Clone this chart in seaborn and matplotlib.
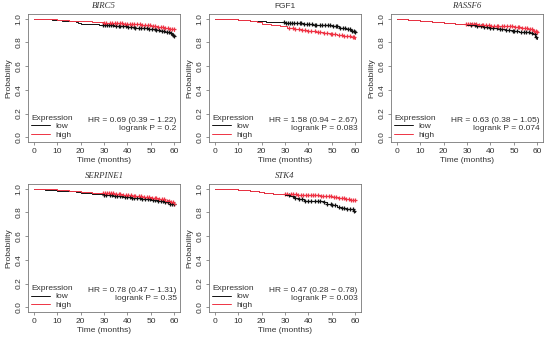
"""
Kaplan-Meier style survival panels for five genes (low vs high expression).
"""

import numpy as np
import matplotlib
matplotlib.use("Agg")
import matplotlib.pyplot as plt
from matplotlib.lines import Line2D
import seaborn as sns

genes = ["BIRC5", "FGF1", "RASSF6", "SERPINE1", "STK4"]
hr_text = ["HR = 0.69 (0.39 \u2212 1.22)", "HR = 1.58 (0.94 \u2212 2.67)",
           "HR = 0.63 (0.38 \u2212 1.05)", "HR = 0.78 (0.47 \u2212 1.31)",
           "HR = 0.47 (0.28 \u2212 0.78)"]
p_text = ["logrank P = 0.2", "logrank P = 0.083", "logrank P = 0.074",
          "logrank P = 0.35", "logrank P = 0.003"]

# step curves: event times (months) and survival probability
birc5_low_t = [0, 3, 8, 12, 16, 18, 19, 20, 24, 28, 31, 34, 37, 40, 43, 46, 49, 52, 54, 56, 58, 59, 60]
birc5_low_s = [1.0, 0.995, 0.99, 0.985, 0.98, 0.975, 0.965, 0.958, 0.952, 0.948, 0.944, 0.94, 0.935,
               0.93, 0.925, 0.92, 0.915, 0.905, 0.898, 0.89, 0.878, 0.865, 0.855]
birc5_high_t = [0, 4, 10, 15, 20, 25, 30, 34, 38, 42, 46, 50, 53, 56, 58, 60]
birc5_high_s = [1.0, 0.995, 0.99, 0.985, 0.978, 0.972, 0.968, 0.963, 0.958, 0.952, 0.945, 0.937,
                0.93, 0.92, 0.91, 0.9]

fgf1_low_t = [0, 5, 10, 15, 18, 22, 26, 30, 34, 38, 42, 46, 50, 53, 56, 58, 60]
fgf1_low_s = [1.0, 0.995, 0.99, 0.985, 0.98, 0.975, 0.97, 0.965, 0.96, 0.955, 0.95, 0.945, 0.935,
              0.925, 0.915, 0.9, 0.885]
fgf1_high_t = [0, 5, 10, 15, 18, 20, 24, 28, 31, 34, 37, 40, 43, 46, 49, 52, 55, 58, 60]
fgf1_high_s = [1.0, 0.995, 0.99, 0.985, 0.975, 0.955, 0.95, 0.94, 0.925, 0.915, 0.905, 0.895,
               0.885, 0.878, 0.87, 0.86, 0.855, 0.845, 0.83]

rassf6_low_t = [0, 5, 10, 15, 20, 25, 30, 34, 37, 40, 43, 46, 49, 52, 55, 57, 58, 59, 60]
rassf6_low_s = [1.0, 0.993, 0.985, 0.975, 0.965, 0.958, 0.95, 0.94, 0.93, 0.922, 0.915, 0.905,
                0.895, 0.89, 0.885, 0.88, 0.87, 0.85, 0.83]
rassf6_high_t = [0, 5, 10, 15, 20, 25, 30, 35, 40, 45, 50, 53, 56, 58, 60]
rassf6_high_s = [1.0, 0.993, 0.985, 0.975, 0.965, 0.958, 0.952, 0.947, 0.942, 0.937, 0.93, 0.92,
                 0.91, 0.9, 0.89]

serpine1_low_t = [0, 5, 10, 15, 18, 20, 25, 30, 34, 38, 42, 46, 50, 53, 56, 58, 60]
serpine1_low_s = [1.0, 0.993, 0.985, 0.978, 0.97, 0.96, 0.955, 0.948, 0.94, 0.932, 0.925, 0.915,
                  0.905, 0.895, 0.885, 0.875, 0.86]
serpine1_high_t = [0, 5, 10, 15, 20, 25, 30, 34, 38, 42, 46, 50, 53, 56, 58, 60]
serpine1_high_s = [1.0, 0.995, 0.99, 0.982, 0.972, 0.965, 0.96, 0.952, 0.945, 0.938, 0.93, 0.92,
                   0.91, 0.9, 0.885, 0.87]

stk4_low_t = [0, 5, 10, 15, 19, 21, 25, 30, 32, 34, 36, 38, 42, 46, 48, 50, 52, 54, 56, 58, 59, 60]
stk4_low_s = [1.0, 0.995, 0.99, 0.985, 0.975, 0.965, 0.958, 0.95, 0.935, 0.925, 0.915, 0.9, 0.895,
              0.885, 0.87, 0.865, 0.85, 0.835, 0.83, 0.825, 0.81, 0.8]
stk4_high_t = [0, 5, 10, 15, 19, 21, 25, 30, 35, 40, 45, 50, 53, 56, 58, 60]
stk4_high_s = [1.0, 0.995, 0.99, 0.985, 0.975, 0.965, 0.958, 0.952, 0.95, 0.945, 0.94, 0.932,
               0.925, 0.915, 0.905, 0.895]

# censoring times (months)
cens_a = [29.5, 30.5, 31.2, 32.0, 33.0, 33.8, 35.0, 36.2, 37.0, 38.1, 39.5, 40.3, 41.5, 42.6, 43.4,
          44.8, 45.9, 47.0, 48.2, 49.1, 50.4, 51.6, 52.3, 53.5, 54.7, 55.6, 56.8, 57.9, 58.6, 59.4, 60.0]
cens_b = [30.0, 31.0, 32.5, 33.4, 34.6, 35.5, 36.7, 37.6, 38.8, 39.9, 41.0, 42.1, 43.0, 44.2, 45.3,
          46.4, 47.5, 48.7, 49.8, 50.9, 51.9, 53.0, 54.1, 55.2, 56.2, 57.3, 58.2, 59.0, 59.7]
cens_c = [31.5, 33.2, 34.1, 36.0, 37.3, 38.5, 40.0, 41.2, 42.9, 44.0, 45.0, 46.8, 48.0, 49.5, 50.1,
          51.2, 53.2, 54.4, 55.0, 56.5, 57.5, 58.8, 59.6]

curves = {
    "BIRC5": (birc5_low_t, birc5_low_s, cens_a, birc5_high_t, birc5_high_s, cens_b),
    "FGF1": (fgf1_low_t, fgf1_low_s, cens_a, fgf1_high_t, fgf1_high_s, cens_c),
    "RASSF6": (rassf6_low_t, rassf6_low_s, cens_c, rassf6_high_t, rassf6_high_s, cens_a),
    "SERPINE1": (serpine1_low_t, serpine1_low_s, cens_b, serpine1_high_t, serpine1_high_s, cens_a),
    "STK4": (stk4_low_t, stk4_low_s, cens_c, stk4_high_t, stk4_high_s, cens_b),
}

sns.set_style("white")
plt.rcParams["font.family"] = ["Liberation Sans", "DejaVu Sans"]

W, H = 550, 339
fig = plt.figure(figsize=(5.5, 3.39), dpi=100)

# axes boxes in pixels: left, top
lefts = [28, 209, 391]
tops = [14, 184]
aw, ah = 152, 128
txt_col = "#333333"
low_col = "#111111"
high_col = "#ee3344"
fs = 6.0


def surv_at(t, s, x):
    idx = np.searchsorted(t, x, side="right") - 1
    return np.asarray(s)[idx]


def draw_panel(ax, gene, i):
    lt, ls, lc, ht, hs, hc = curves[gene]
    sns.lineplot(x=lt, y=ls, drawstyle="steps-post", color=low_col, lw=0.7, ax=ax,
                 estimator=None)
    sns.lineplot(x=ht, y=hs, drawstyle="steps-post", color=high_col, lw=0.7, ax=ax,
                 estimator=None)
    sns.scatterplot(x=lc, y=surv_at(lt, ls, lc), marker="+", color=low_col, s=10,
                    linewidth=0.9, ax=ax, legend=False)
    sns.scatterplot(x=hc, y=surv_at(ht, hs, hc), marker="+", color=high_col, s=10,
                    linewidth=0.9, ax=ax, legend=False)

    ax.set_xlim(-2.4, 62.4)
    ax.set_ylim(-0.04, 1.04)
    ax.set_xticks([0, 10, 20, 30, 40, 50, 60])
    ax.set_yticks([0.0, 0.2, 0.4, 0.6, 0.8, 1.0])
    ax.set_yticklabels(["0.0", "0.2", "0.4", "0.6", "0.8", "1.0"], rotation=90, va="center")
    ax.tick_params(axis="both", direction="out", length=2.5, width=0.5, colors="#666666",
                   labelsize=fs, pad=1.5, labelcolor=txt_col)
    ax.tick_params(axis="x", bottom=True)
    ax.tick_params(axis="y", left=True)
    for sp in ax.spines.values():
        sp.set_color("#777777")
        sp.set_linewidth(0.6)
    ax.set_xlabel("Time (months)", fontsize=fs, color=txt_col, labelpad=2)
    ax.set_ylabel("Probability", fontsize=fs, color=txt_col, labelpad=2)

    if gene == "FGF1":
        ax.set_title(gene, fontsize=fs, color=txt_col, pad=4)
    else:
        ax.set_title(gene, fontsize=6.3, style="italic", color=txt_col, pad=4,
                     family=["Liberation Serif", "DejaVu Serif"])

    handles = [Line2D([], [], color=low_col, lw=0.7), Line2D([], [], color=high_col, lw=0.7)]
    leg = ax.legend(handles, ["low", "high"], title="Expression", loc="lower left",
                    frameon=False, fontsize=fs, title_fontsize=fs, handlelength=2.3,
                    handletextpad=0.6, borderaxespad=0.15, labelspacing=0.1,
                    borderpad=0.2, alignment="left")
    for txt in leg.get_texts():
        txt.set_color(txt_col)
    leg.get_title().set_color(txt_col)

    ax.text(61.0, 0.145, hr_text[i], ha="right", va="center", fontsize=fs, color=txt_col)
    ax.text(61.0, 0.075, p_text[i], ha="right", va="center", fontsize=fs, color=txt_col)


for i, gene in enumerate(genes):
    r, c = divmod(i, 3)
    l, t = lefts[c], tops[r]
    ax = fig.add_axes([l / W, (H - t - ah) / H, aw / W, ah / H])
    draw_panel(ax, gene, i)

fig.savefig("out.png", dpi=100)
